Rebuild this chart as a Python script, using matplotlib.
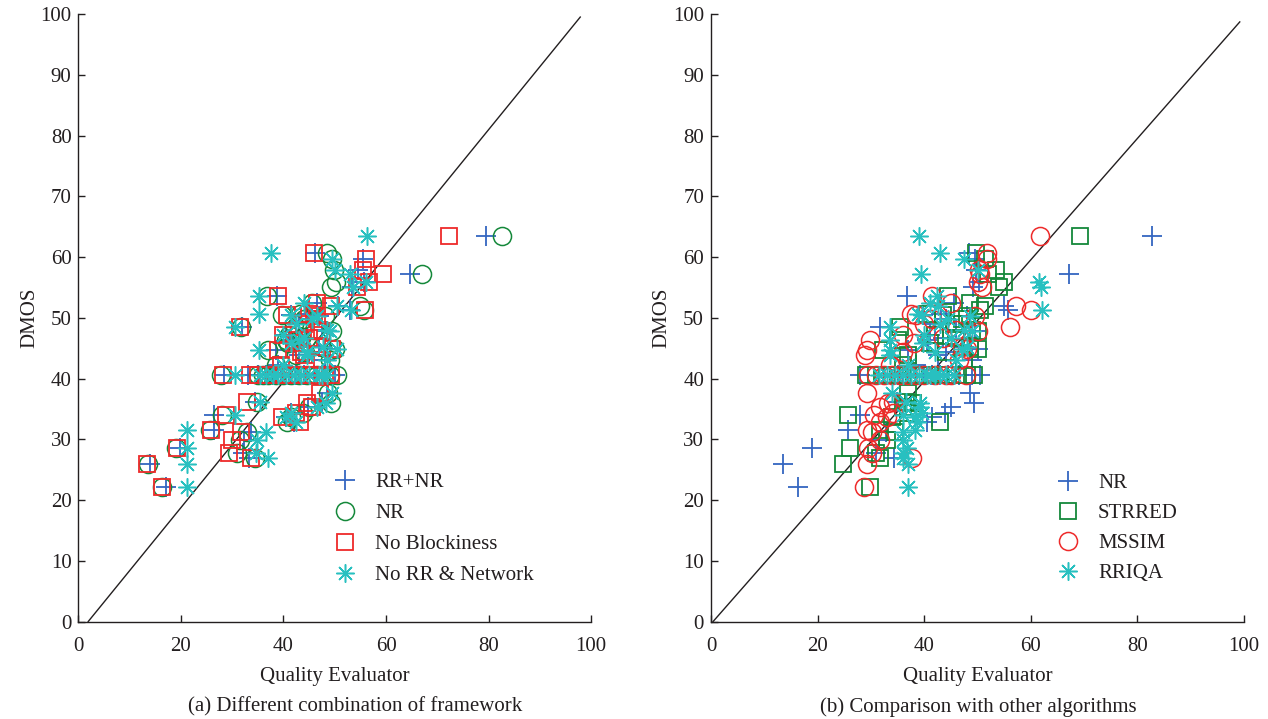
import matplotlib
matplotlib.use("Agg")
import matplotlib.pyplot as plt
import numpy as np

plt.rcParams['font.family'] = ['Liberation Serif', 'DejaVu Serif']

# ---- data (DMOS shared by all predictors) ----
dmos = [63.5, 60.7, 57.2, 59.7, 57.9, 55.9, 55.1, 52.0, 51.2, 53.6, 50.6, 48.5, 44.7, 46.3, 43.9,
        40.6, 40.6, 40.6, 40.6, 40.6, 40.6, 40.6, 40.6, 40.6, 40.6, 40.6, 40.6,
        52.4, 50.5, 49.8, 49.0, 48.0, 47.2, 46.7, 45.8, 45.2, 44.3, 43.0, 42.3, 44.8, 47.8, 50.3,
        36.0, 37.6, 32.8, 34.3, 35.3, 33.6,
        22.2, 25.9, 28.6, 31.5, 26.9, 27.7, 29.9, 31.2, 34.0, 36.1]

rr_nr = [79.5, 46.2, 64.7, 55.5, 54.6, 55.8, 53.4, 50.6, 53.0, 38.8, 44.5, 31.9, 38.6, 41.0, 43.0,
         28.3, 33.0, 35.0, 36.5, 38.0, 39.5, 41.0, 42.5, 44.0, 46.0, 48.0, 50.0,
         46.5, 41.5, 45.5, 43.0, 47.5, 40.5, 44.5, 42.0, 47.0, 45.0, 48.0, 39.0, 49.0, 48.5, 47.0,
         47.5, 48.5, 42.0, 41.5, 44.8, 40.5,
         17.0, 14.0, 19.8, 26.5, 33.3, 32.1, 32.3, 33.6, 26.5, 34.4]

nr = [82.7, 48.4, 67.1, 49.5, 49.8, 50.3, 49.2, 54.9, 55.7, 36.7, 43.2, 31.8, 37.0, 40.5, 42.5,
      27.9, 35.0, 36.0, 37.0, 38.5, 40.0, 41.5, 43.0, 44.5, 46.5, 49.0, 50.5,
      45.5, 39.8, 44.0, 42.0, 46.0, 41.0, 43.5, 40.8, 47.5, 44.0, 49.0, 38.5, 50.0, 49.5, 48.0,
      49.3, 48.6, 40.6, 43.9, 45.0, 41.5,
      16.3, 13.5, 19.0, 25.7, 34.4, 30.9, 31.6, 32.9, 28.0, 34.9]

no_block = [72.3, 46.0, 59.5, 56.0, 55.6, 56.6, 54.4, 49.2, 55.9, 39.0, 45.0, 31.5, 38.9, 42.0, 44.0,
            28.1, 33.5, 35.0, 37.0, 38.5, 40.0, 41.5, 43.0, 44.5, 46.0, 48.0, 49.3,
            46.6, 40.7, 46.5, 44.0, 47.0, 40.0, 45.0, 42.5, 46.5, 43.5, 47.5, 39.5, 49.5, 47.5, 46.0,
            44.6, 47.2, 43.2, 42.5, 45.5, 39.8,
            16.3, 13.4, 19.3, 25.9, 33.7, 29.4, 29.9, 31.8, 28.8, 32.8]

no_rr_net = [56.3, 37.6, 53.0, 49.5, 50.0, 56.0, 53.6, 50.5, 53.2, 35.2, 35.2, 30.6, 35.2, 43.0, 44.5,
             30.6, 35.5, 36.5, 38.0, 39.0, 40.5, 42.0, 43.5, 45.0, 47.0, 48.5, 47.5,
             44.0, 41.5, 45.5, 42.5, 48.5, 40.0, 44.0, 41.5, 47.8, 44.5, 48.5, 40.0, 50.5, 49.0, 46.5,
             48.2, 49.5, 42.5, 41.5, 46.5, 40.5,
             21.1, 21.1, 21.1, 21.1, 37.0, 34.6, 34.8, 36.5, 30.5, 35.5]

strred = [69.2, 49.7, 52.0, 51.5, 53.5, 55.0, 54.0, 51.5, 50.5, 44.5, 40.5, 35.5, 32.3, 35.0, 37.0,
          29.0, 31.0, 33.0, 35.0, 37.0, 39.0, 41.0, 43.0, 44.5, 46.0, 48.0, 49.3,
          48.5, 43.5, 47.0, 45.5, 49.0, 42.0, 46.0, 41.0, 48.5, 44.0, 47.5, 36.0, 50.0, 50.0, 48.0,
          37.9, 37.0, 43.0, 37.0, 36.0, 34.0,
          29.8, 24.8, 26.1, 31.7, 31.7, 31.0, 33.0, 34.5, 25.7, 36.5]

mssim = [61.7, 51.8, 50.5, 51.8, 50.3, 50.0, 50.8, 57.2, 60.0, 41.5, 37.5, 56.1, 29.3, 29.8, 28.9,
         29.5, 31.0, 32.5, 34.0, 35.5, 37.0, 38.5, 40.0, 42.0, 44.0, 45.0, 47.8,
         45.0, 38.5, 41.5, 40.0, 46.0, 36.0, 43.5, 38.0, 47.0, 36.0, 46.5, 33.5, 48.0, 50.0, 49.5,
         33.2, 29.3, 31.7, 34.1, 31.7, 33.0,
         28.7, 29.3, 29.4, 29.3, 37.7, 30.2, 31.7, 30.2, 30.5, 34.1]

rriqa = [39.0, 43.0, 39.4, 47.5, 50.0, 61.5, 61.9, 42.5, 62.1, 42.4, 38.8, 33.6, 33.6, 33.6, 33.6,
         31.5, 33.0, 34.5, 36.0, 37.5, 39.0, 40.5, 42.0, 44.0, 45.5, 43.0, 41.0,
         41.0, 39.5, 44.5, 43.0, 47.5, 40.0, 45.0, 39.8, 48.0, 42.0, 46.0, 37.0, 47.0, 49.0, 48.5,
         39.2, 34.0, 38.6, 39.6, 39.2, 38.3,
         37.0, 37.0, 36.8, 38.3, 36.0, 36.0, 36.0, 36.0, 36.0, 36.5]

labels_a = ['RR+NR', 'NR', 'No Blockiness', 'No RR & Network']
labels_b = ['NR', 'STRRED', 'MSSIM', 'RRIQA']

BLUE = '#3466c0'
GREEN = '#14883a'
RED = '#ee2a2a'
CYAN = '#28c0c0'
ASTER = (8, 2, 0)
TXT = '#231f20'

fig = plt.figure(figsize=(12.68, 7.19), dpi=100)
axA = fig.add_axes([0.0619, 0.1356, 0.4042, 0.8449])
axB = fig.add_axes([0.5607, 0.1356, 0.4204, 0.8449])

FS = 15

def style(ax):
    ax.set_xlim(0, 100)
    ax.set_ylim(0, 100)
    ax.spines['top'].set_visible(False)
    ax.spines['right'].set_visible(False)
    for s in ('left', 'bottom'):
        ax.spines[s].set_linewidth(1.0)
        ax.spines[s].set_color(TXT)
    ax.set_xticks(range(0, 101, 20))
    ax.set_yticks(range(0, 101, 10))
    ax.tick_params(direction='in', length=5, width=1.0, labelsize=FS, colors=TXT)
    ax.tick_params(axis='x', pad=11)
    ax.tick_params(axis='y', pad=5)
    ax.set_xlabel('Quality Evaluator', fontsize=FS, color=TXT, labelpad=8)
    ax.set_ylabel('DMOS', fontsize=FS, color=TXT, labelpad=1)

style(axA)
style(axB)

ms = 12
mew = 1.1
axA.plot([1.9, 97.9], [0, 99.5], color=TXT, lw=1.0, zorder=1)
axA.plot(rr_nr, dmos, ls='none', marker='+', ms=ms + 2, mew=mew + 0.2, color=BLUE, label=labels_a[0])
axA.plot(nr, dmos, ls='none', marker='o', ms=ms + 1, mew=mew, mfc='none', mec=GREEN, label=labels_a[1])
axA.plot(no_block, dmos, ls='none', marker='s', ms=ms, mew=mew + 0.2, mfc='none', mec=RED, label=labels_a[2])
axA.plot(no_rr_net, dmos, ls='none', marker=ASTER, ms=ms + 1, mew=mew, color=CYAN, label=labels_a[3])

axB.plot([0.4, 99.2], [0, 98.7], color=TXT, lw=1.0, zorder=1)
axB.plot(nr, dmos, ls='none', marker='+', ms=ms + 2, mew=mew + 0.2, color=BLUE, label=labels_b[0])
axB.plot(strred, dmos, ls='none', marker='s', ms=ms, mew=mew + 0.2, mfc='none', mec=GREEN, label=labels_b[1])
axB.plot(mssim, dmos, ls='none', marker='o', ms=ms + 1, mew=mew, mfc='none', mec=RED, label=labels_b[2])
axB.plot(rriqa, dmos, ls='none', marker=ASTER, ms=ms + 1, mew=mew, color=CYAN, label=labels_b[3])

legkw = dict(frameon=False, fontsize=FS, handlelength=1.0, handletextpad=0.95,
             borderaxespad=0, borderpad=0, loc='upper left')
legA = axA.legend(bbox_to_anchor=(0.4997, 0.245), labelspacing=0.55, **legkw)
legB = axB.legend(bbox_to_anchor=(0.650, 0.243), labelspacing=0.50, **legkw)
for lg in (legA, legB):
    for t in lg.get_texts():
        t.set_color(TXT)

fig.text(0.2800, 0.0165, '(a) Different combination of framework', ha='center', va='center',
         fontsize=FS, color=TXT)
fig.text(0.7713, 0.0165, '(b) Comparison with other algorithms', ha='center', va='center',
         fontsize=FS, color=TXT)

fig.savefig('out.png', dpi=100)
